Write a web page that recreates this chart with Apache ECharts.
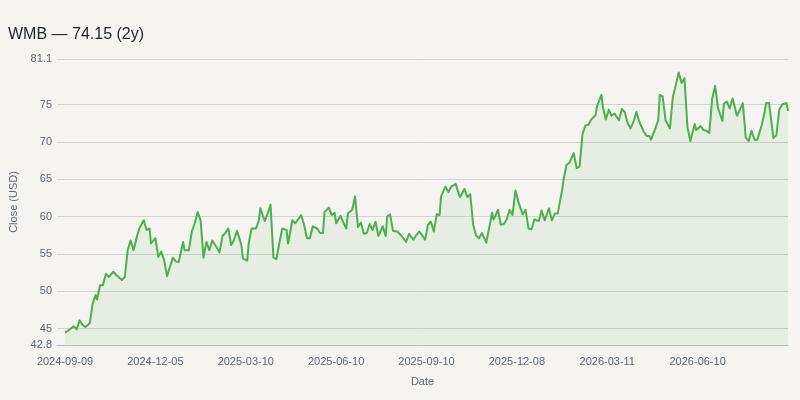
<!DOCTYPE html>
<html>
<head>
<meta charset="utf-8">
<title>WMB close</title>
<script src="https://cdn.jsdelivr.net/npm/echarts@6/dist/echarts.min.js"></script>
<style>
  html, body { margin: 0; padding: 0; background: #f5f4f0; }
  #chart { width: 800px; height: 400px; }
</style>
</head>
<body>
<div id="chart"></div>
<script>
// ---------------------------------------------------------------------------
// Data: trading session number since 2024-09-09
// and the close price on that session
// ---------------------------------------------------------------------------
const session = [
  0, 2, 6, 8, 10, 12, 14, 17, 19, 21, 22, 24, 26, 28, 30, 33, 35, 39, 41, 43,
  45, 47, 50, 51, 54, 56, 58, 59, 62, 64, 66, 68, 70, 72, 74, 76, 78, 81, 82, 85,
  87, 89, 91, 93, 95, 97, 99, 101, 104, 106, 108, 110, 112, 114, 116, 118, 121, 122, 125, 126,
  128, 131, 133, 134, 137, 139, 141, 143, 145, 147, 149, 152, 153, 156, 158, 159, 162, 164, 166, 168,
  170, 173, 175, 177, 178, 181, 183, 185, 186, 189, 191, 193, 194, 197, 199, 201, 203, 205, 207, 209,
  211, 213, 215, 218, 220, 221, 223, 225, 228, 231, 234, 236, 239, 241, 243, 245, 247, 249, 251, 253,
  255, 257, 258, 261, 263, 265, 268, 270, 271, 274, 276, 278, 280, 282, 284, 286, 289, 290, 293, 294,
  297, 299, 301, 303, 305, 307, 309, 311, 314, 316, 318, 320, 322, 325, 327, 329, 332, 334, 336, 338,
  341, 342, 344, 346, 349, 351, 353, 355, 357, 359, 361, 364, 365, 368, 369, 371, 373, 375, 377, 378,
  380, 382, 384, 386, 388, 390, 392, 394, 397, 399, 401, 402, 405, 407, 408, 410, 412, 415, 417, 419,
  421, 423, 425, 427, 429, 432, 433, 436, 438, 440, 442, 444, 446, 448, 451, 452, 454, 456, 458, 461,
  463, 465, 467, 469, 471, 473, 475, 478, 480, 481, 483, 486, 488, 490, 492, 495, 496
];
const close = [
  44.45, 44.7, 45.3, 44.9, 46.1, 45.5, 45.2, 45.7, 48.4, 49.5, 48.9, 50.8, 50.8, 52.3, 51.9, 52.6, 52.2, 51.5, 51.9, 55.5,
  56.8, 55.5, 57.8, 58.4, 59.5, 58.2, 58.4, 56.4, 57.1, 54.6, 55.3, 54.2, 52.0, 53.3, 54.5, 54.0, 53.9, 56.6, 55.5, 55.5,
  58.0, 59.1, 60.6, 59.5, 54.5, 56.6, 55.5, 56.8, 55.9, 55.2, 57.4, 57.8, 58.4, 56.2, 56.9, 58.1, 56.2, 54.4, 54.1, 56.4,
  58.4, 58.4, 59.5, 61.1, 59.4, 60.4, 61.6, 54.5, 54.3, 56.4, 58.4, 58.2, 56.4, 59.5, 59.1, 58.9, 60.2, 58.9, 57.1, 57.1,
  58.7, 58.4, 57.8, 57.8, 60.6, 61.2, 60.2, 60.5, 59.1, 60.1, 59.2, 58.4, 60.4, 60.9, 62.7, 58.6, 59.2, 57.7, 57.8, 59.0,
  58.2, 59.3, 57.4, 58.7, 57.4, 60.0, 60.3, 58.1, 58.0, 57.4, 56.6, 57.7, 56.9, 57.5, 58.0, 57.5, 56.9, 58.9, 59.3, 58.0,
  60.3, 60.2, 62.7, 64.0, 63.3, 64.0, 64.4, 63.1, 62.6, 63.7, 62.6, 63.0, 58.9, 57.5, 57.1, 57.8, 56.5, 57.5, 60.5, 59.6,
  60.9, 58.9, 59.0, 59.6, 60.9, 60.2, 63.5, 62.0, 60.3, 60.9, 58.4, 58.3, 59.6, 59.4, 60.8, 59.5, 61.1, 59.5, 60.4, 60.4,
  63.5, 64.9, 66.9, 67.2, 68.5, 66.5, 66.7, 71.0, 72.2, 72.3, 73.0, 73.6, 74.8, 76.3, 74.7, 73.0, 74.3, 73.5, 73.8, 73.5,
  72.9, 74.4, 74.0, 72.5, 71.8, 72.7, 74.0, 72.7, 71.4, 70.8, 70.8, 70.3, 71.8, 72.9, 76.3, 76.1, 72.9, 71.8, 76.0, 77.6,
  79.3, 77.9, 78.5, 72.0, 70.1, 72.4, 71.6, 72.1, 71.6, 71.5, 71.2, 75.8, 77.5, 74.5, 72.8, 75.1, 75.4, 74.5, 75.8, 73.5,
  74.3, 75.2, 70.6, 70.1, 71.5, 70.3, 70.3, 72.3, 74.0, 75.2, 75.2, 70.5, 70.9, 74.3, 75.0, 75.2, 74.15
];

// Axis ticks
const tickSessions = [0, 62, 124, 186, 248, 310, 372, 434];
const tickLabels = ["2024-09-09", "2024-12-05", "2025-03-10", "2025-06-10",
                    "2025-09-10", "2025-12-08", "2026-03-11", "2026-06-10"];
const yTicks = [42.8, 45, 50, 55, 60, 65, 70, 75, 81.1];

// ---------------------------------------------------------------------------
// Chart
// ---------------------------------------------------------------------------
const chart = echarts.init(document.getElementById("chart"));

const labelColor = "#5c6677";
const font = "'Liberation Sans', Arial, sans-serif";

const option = {
  backgroundColor: "#f5f4f0",
  animation: false,
  textStyle: { fontFamily: font },
  title: {
    text: "WMB \u2014 74.15 (2y)",
    left: 8,
    top: 27,
    padding: 0,
    textStyle: { color: "#1f2330", fontSize: 16, fontWeight: "normal", fontFamily: font },
  },
  grid: { left: 57, right: 12, top: 59, bottom: 55, containLabel: false },
  xAxis: {
    type: "value",
    min: -5.5,
    max: 496,
    name: "Date",
    nameLocation: "middle",
    nameGap: 31,
    nameTextStyle: { color: labelColor, fontSize: 11, fontFamily: font },
    axisLine: { show: true, onZero: false, lineStyle: { color: "#b4bac4", width: 1 } },
    axisTick: { show: false, customValues: tickSessions },
    splitLine: { show: false },
    axisLabel: {
      customValues: tickSessions,
      formatter: (v) => tickLabels[tickSessions.indexOf(v)] ?? "",
      color: labelColor,
      fontSize: 11,
      margin: 11,
      fontFamily: font,
    },
  },
  yAxis: {
    type: "value",
    min: 42.8,
    max: 81.1,
    name: "Close (USD)",
    nameLocation: "middle",
    nameGap: 32,
    nameTextStyle: { color: labelColor, fontSize: 11, fontFamily: font },
    axisLine: { show: false },
    axisTick: { show: false, customValues: yTicks },
    axisLabel: { customValues: yTicks, color: labelColor, fontSize: 11, margin: 5, fontFamily: font },
    splitLine: { show: true, lineStyle: { color: "#d3d3d3", width: 1 } },
  },
  series: [
    {
      type: "line",
      data: session.map((s, i) => [s, close[i]]),
      symbol: "none",
      lineStyle: { color: "#4caf50", width: 2, join: "round" },
      areaStyle: { color: "rgba(76,175,80,0.13)", origin: "start" },
    },
  ],
};

chart.setOption(option);
</script>
</body>
</html>
